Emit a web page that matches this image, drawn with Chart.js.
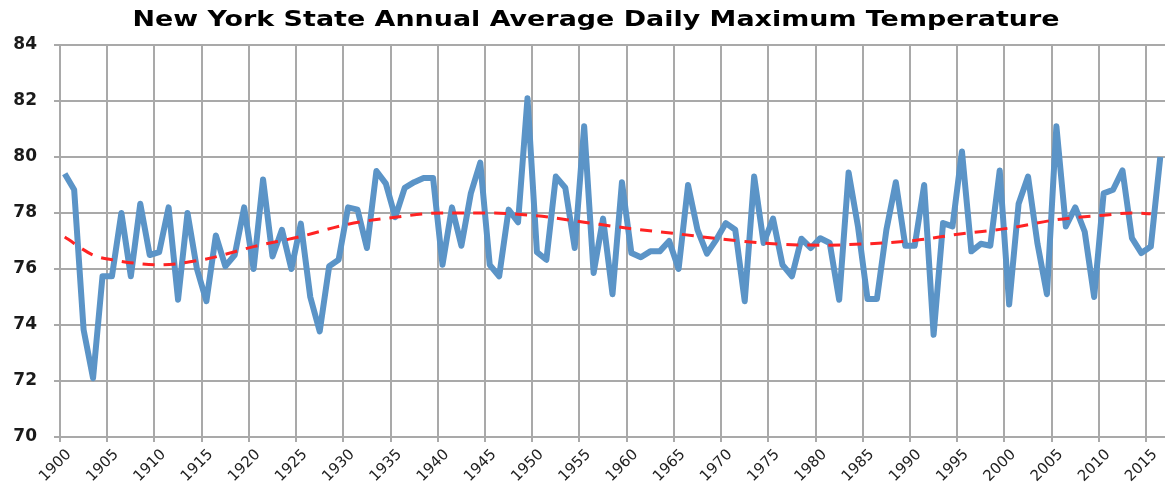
<!DOCTYPE html>
<html>
<head>
<meta charset="utf-8">
<script src="https://cdn.jsdelivr.net/npm/chart.js@4/dist/chart.umd.min.js"></script>
<style>
  html, body { margin: 0; padding: 0; background: #fff; }
  #grafico { display: block; }
</style>
</head>
<body>
<canvas id="grafico" width="1172" height="484"></canvas>
<script>
// anos (categorias) e temperaturas
const anos = [
  1900, 1901, 1902, 1903, 1904, 1905, 1906, 1907, 1908, 1909,
  1910, 1911, 1912, 1913, 1914, 1915, 1916, 1917, 1918, 1919,
  1920, 1921, 1922, 1923, 1924, 1925, 1926, 1927, 1928, 1929,
  1930, 1931, 1932, 1933, 1934, 1935, 1936, 1937, 1938, 1939,
  1940, 1941, 1942, 1943, 1944, 1945, 1946, 1947, 1948, 1949,
  1950, 1951, 1952, 1953, 1954, 1955, 1956, 1957, 1958, 1959,
  1960, 1961, 1962, 1963, 1964, 1965, 1966, 1967, 1968, 1969,
  1970, 1971, 1972, 1973, 1974, 1975, 1976, 1977, 1978, 1979,
  1980, 1981, 1982, 1983, 1984, 1985, 1986, 1987, 1988, 1989,
  1990, 1991, 1992, 1993, 1994, 1995, 1996, 1997, 1998, 1999,
  2000, 2001, 2002, 2003, 2004, 2005, 2006, 2007, 2008, 2009,
  2010, 2011, 2012, 2013, 2014, 2015, 2016
];
const temperaturas = [
  79.40, 78.83, 73.83, 72.10, 75.74, 75.74, 78.00, 75.74, 78.33, 76.50,
  76.60, 78.20, 74.90, 78.00, 76.00, 74.85, 77.20, 76.10, 76.50, 78.20,
  76.00, 79.20, 76.45, 77.40, 76.00, 77.62, 75.00, 73.77, 76.10, 76.33,
  78.20, 78.12, 76.75, 79.50, 79.05, 77.85, 78.90, 79.10, 79.25, 79.25,
  76.15, 78.20, 76.83, 78.70, 79.80, 76.15, 75.74, 78.12, 77.67, 82.10,
  76.60, 76.33, 79.30, 78.90, 76.75, 81.10, 75.86, 77.80, 75.10, 79.10,
  76.57, 76.42, 76.63, 76.63, 77.00, 76.00, 79.00, 77.40, 76.55, 77.05,
  77.64, 77.40, 74.85, 79.30, 76.93, 77.80, 76.15, 75.74, 77.08, 76.75,
  77.10, 76.93, 74.90, 79.45, 77.50, 74.93, 74.93, 77.40, 79.10, 76.83,
  76.83, 79.00, 73.65, 77.64, 77.52, 80.20, 76.63, 76.90, 76.83, 79.52,
  74.73, 78.33, 79.30, 76.90, 75.10, 81.10, 77.52, 78.20, 77.33, 75.00,
  78.70, 78.83, 79.52, 77.10, 76.57, 76.80, 80.00
];

// linha de tendencia (tracejada vermelha)
const anosTendencia = [
  1900, 1903, 1905, 1910, 1915, 1920, 1925, 1930, 1935, 1940, 1945, 1950, 1955,
  1960, 1965, 1970, 1975, 1980, 1985, 1990, 1995, 2000, 2005, 2010, 2013, 2015
];
const valoresTendencia = [
  77.14, 76.50, 76.33, 76.15, 76.36, 76.80, 77.16, 77.60, 77.85, 78.00, 78.00, 77.90, 77.67,
  77.44, 77.25, 77.05, 76.90, 76.85, 76.90, 77.02, 77.26, 77.46, 77.76, 77.92, 78.00, 77.97
];

// rotulos do eixo x
const rotulosX = [
  1900, 1905, 1910, 1915, 1920, 1925, 1930, 1935, 1940, 1945, 1950, 1955,
  1960, 1965, 1970, 1975, 1980, 1985, 1990, 1995, 2000, 2005, 2010, 2015
];
const titulo = 'New York State Annual Average Daily Maximum Temperature';

const corGrade = '#a9a9a9';

// titulo desenhado "esticado" na horizontal, como no original
const pluginTitulo = {
    id: 'tituloEsticado',
    afterDraw(chart) {
        const c = chart.ctx;
        c.save();
        c.font = 'bold 22px "DejaVu Sans"';
        c.fillStyle = '#000';
        c.textAlign = 'center';
        c.textBaseline = 'alphabetic';
        const larg = c.measureText(titulo).width;
        c.translate(596, 26);
        c.scale(927 / larg, 1);
        c.fillText(titulo, 0, 0);
        c.restore();
    }
};

const ctx = document.getElementById('grafico').getContext('2d');
const grafico = new Chart(ctx, {
    type: 'line',
    data: {
        datasets: [{
            label: 'Temperatura',
            data: anos.map((a, i) => ({x: a, y: temperaturas[i]})),
            borderColor: '#5b94c7',
            borderWidth: 6,
            pointRadius: 0,
            tension: 0,
            borderJoinStyle: 'round',
            order: 2
        }, {
            label: 'Tendencia',
            data: anosTendencia.map((a, i) => ({x: a, y: valoresTendencia[i]})),
            borderColor: '#ff2323',
            borderWidth: 3,
            borderDash: [12, 9],
            pointRadius: 0,
            cubicInterpolationMode: 'monotone',
            order: 1
        }]
    },
    plugins: [pluginTitulo],
    options: {
        responsive: false,
        animation: false,
        layout: {padding: {left: 0, right: 7, top: 45, bottom: 0}},
        plugins: {
            legend: {display: false},
            tooltip: {enabled: false},
            title: {display: false}
        },
        scales: {
            x: {
                type: 'linear',
                min: 1899.5,
                max: 2016.5,
                afterBuildTicks: (axis) => {
                    axis.ticks = rotulosX.map(v => ({value: v - 0.5}));
                },
                afterFit: (s) => { s.height = 47; },
                grid: {color: corGrade, lineWidth: 2, tickLength: 5},
                border: {display: false},
                ticks: {
                    autoSkip: false,
                    minRotation: 45,
                    maxRotation: 45,
                    padding: 4,
                    labelOffset: 9,
                    color: '#222',
                    font: {family: 'DejaVu Sans', size: 15},
                    callback: (v) => String(v + 0.5)
                }
            },
            y: {
                min: 70,
                max: 84,
                afterFit: (s) => { s.width = 60; },
                grid: {color: corGrade, lineWidth: 2, tickLength: 6},
                border: {display: false},
                ticks: {
                    stepSize: 2,
                    padding: 17,
                    color: '#1a1a1a',
                    font: {family: 'DejaVu Sans', size: 17, weight: 'bold'}
                }
            }
        }
    }
});
</script>
</body>
</html>
